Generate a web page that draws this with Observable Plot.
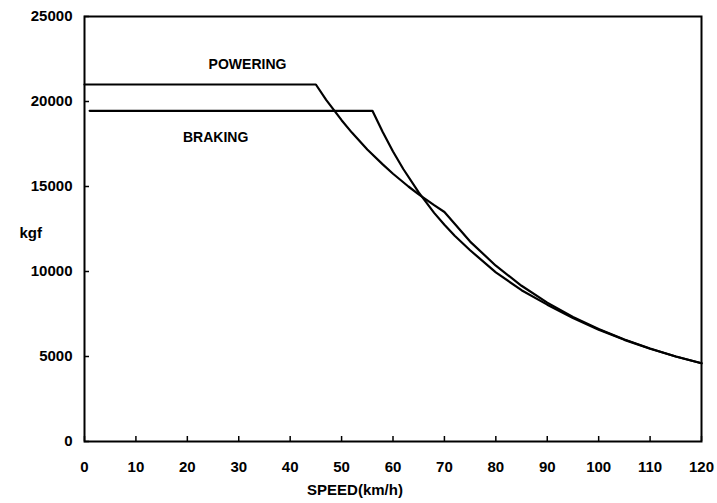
<!DOCTYPE html>
<html>
<head>
<meta charset="utf-8">
<script src="https://cdn.jsdelivr.net/npm/d3@7"></script>
<script src="https://cdn.jsdelivr.net/npm/@observablehq/plot@0.6"></script>
<style>
  html, body { margin: 0; padding: 0; background: #fff; }
  #chart svg { display: block; }
</style>
</head>
<body>
<div id="chart"></div>
<script>
// Tractive effort (kgf) vs speed (km/h)
const poweringSpeed = [0, 45, 47, 50, 52, 55, 58, 60, 63, 65, 68, 70, 75, 80, 85, 90, 95, 100, 105, 110, 115, 120];
const poweringForce = [21000, 21000, 20100, 18900, 18170, 17180, 16300, 15750, 15000, 14540, 13900, 13500, 11760, 10340, 9160, 8170, 7330, 6620, 6000, 5470, 5000, 4600];

const brakingSpeed = [1, 56, 58, 60, 62, 65, 68, 70, 72, 75, 80, 85, 90, 95, 100, 105, 110, 115, 120];
const brakingForce = [19450, 19450, 18200, 17060, 16030, 14650, 13450, 12750, 12100, 11250, 9950, 8900, 8050, 7270, 6580, 5980, 5460, 5000, 4600];

const xTicks = [0, 10, 20, 30, 40, 50, 60, 70, 80, 90, 100, 110, 120];
const yTicks = [0, 5000, 10000, 15000, 20000, 25000];

const annotationText = ["POWERING", "BRAKING"];
const annotationSpeed = [31.7, 25.5];
const annotationForce = [22170, 17880];

const xLabel = "SPEED(km/h)";
const yLabel = "kgf";

const powering = poweringSpeed.map((s, i) => ({speed: s, force: poweringForce[i]}));
const braking = brakingSpeed.map((s, i) => ({speed: s, force: brakingForce[i]}));
const annotations = annotationText.map((t, i) => ({text: t, speed: annotationSpeed[i], force: annotationForce[i]}));

const chart = Plot.plot({
  width: 717,
  height: 503,
  marginLeft: 84,
  marginRight: 16,
  marginTop: 16,
  marginBottom: 62,
  style: {
    fontFamily: "'Liberation Sans', Arial, sans-serif",
    fontSize: "15px",
    fontWeight: "bold",
    color: "#000",
    background: "#fff"
  },
  x: {domain: [0, 120]},
  y: {domain: [0, 25000]},
  marks: [
    Plot.axisX({ticks: xTicks, tickSize: -5, tickPadding: 25, tickFormat: d => String(d), label: null, strokeWidth: 1.5}),
    Plot.axisY({ticks: yTicks, tickSize: -5, tickPadding: 17, tickFormat: d => String(d), label: null, strokeWidth: 1.5}),
    Plot.frame({stroke: "#000", strokeWidth: 2}),
    Plot.line(powering, {x: "speed", y: "force", stroke: "#000", strokeWidth: 2.2}),
    Plot.line(braking, {x: "speed", y: "force", stroke: "#000", strokeWidth: 2.2}),
    Plot.text(annotations, {x: "speed", y: "force", text: "text", fontSize: 14, fontWeight: "bold", fill: "#000"}),
    Plot.text([xLabel], {frameAnchor: "bottom", dx: -38, dy: 53, fontSize: 15, fontWeight: "bold", fill: "#000"}),
    Plot.text([yLabel], {frameAnchor: "left", dx: -65, dy: 4, fontSize: 15, fontWeight: "bold", fill: "#000"})
  ]
});
document.getElementById("chart").appendChild(chart);
</script>
</body>
</html>
